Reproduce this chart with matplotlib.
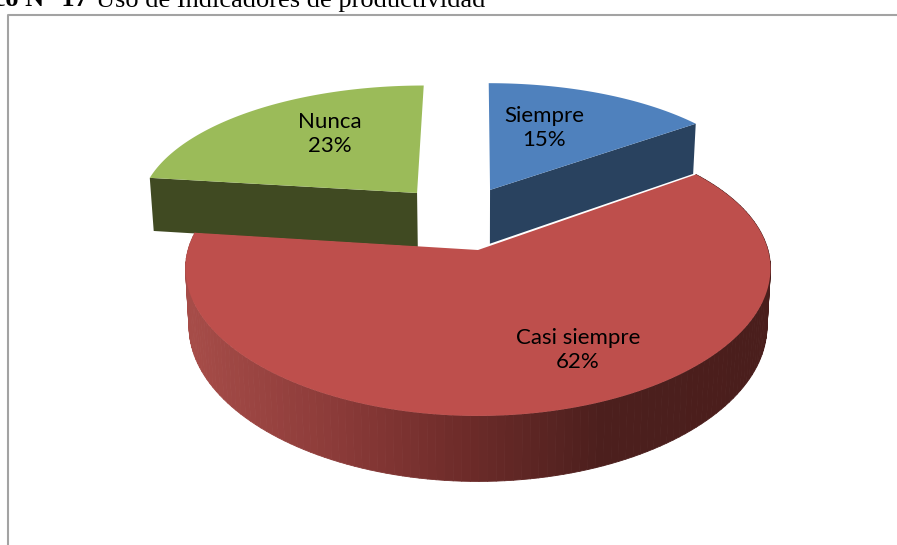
import numpy as np
import matplotlib
matplotlib.use("Agg")
import matplotlib.pyplot as plt
from matplotlib.collections import PolyCollection
from matplotlib.colors import LinearSegmentedColormap

labels = ["Siempre", "Casi siempre", "Nunca"]
values = [15, 62, 23]
top_colors = ["#4F81BD", "#BE4F4C", "#9BBB59"]
side_colors = ["#29425F", "#BE4F4C", "#404A22"]

# pie position in pixels, perspective terms fitted by eye on the reference
cx, cy = 478, 250
rx, ry = 290, 140.2
px, py = 0.13, 0.155
depth = 57
offsets = [(0.044, 0.459), (0, 0), (-0.222, 0.434)]
label_pos = [(544, 128), (578, 350), (330, 134)]


def project(x, y, low=False):
    sx = cx + rx * x / (1 + px * y)
    sy = cy - ry * y / (1 + py * y)
    if low:
        sx = cx + (sx - cx) * 0.988
        sy = sy + depth / (1 + px * y)
    return sx, sy


def rim(a0, a1, off, n=150):
    t = np.radians(np.linspace(a0, a1, n))
    return np.sin(t) + off[0], np.cos(t) + off[1]


fig = plt.figure(figsize=(8.97, 5.45), dpi=100)
ax = fig.add_axes([0, 0, 1, 1])
ax.set_xlim(0, 897)
ax.set_ylim(545, 0)
ax.axis("off")

ax.plot([7.5, 7.5, 897], [545, 14.5, 14.5], color="#A3A3A3", lw=1.5, zorder=1)

ax.text(88, 6.5, "Gráfico N° 17", family="Liberation Serif", weight="bold", fontsize=19,
        ha="right", va="baseline", clip_on=False)
ax.text(96, 6.5, "Uso de Indicadores de productividad", family="Liberation Serif", fontsize=19,
        ha="left", va="baseline", clip_on=False)

fade = LinearSegmentedColormap.from_list(
    "fade", [(0, "#A64C48"), (0.26, "#8A3A38"), (0.48, "#6C2B29"), (0.71, "#4C1F1D"), (1, "#4A1E1C")])

angles = np.cumsum([0] + values) * 3.6
draw_order = [2, 0, 1]
for z, i in enumerate(draw_order):
    a0, a1 = angles[i], angles[i + 1]
    off = offsets[i]
    xs, ys = rim(a0, a1, off)
    tx, ty = project(xs, ys)
    ax0, ay0 = project(off[0], off[1])

    if i == 0:
        # dark cut face running from the centre to the right end of the slice
        lx, ly = project(xs[-1], ys[-1], low=True)
        bx, by = project(off[0], off[1], low=True)
        ax.fill([ax0, tx[-1], lx, bx], [ay0, ty[-1], ly, by], color=side_colors[i], lw=0, zorder=3 + z)
    if i == 2:
        lx, ly = project(xs[0], ys[0], low=True)
        bx, by = project(off[0], off[1], low=True)
        ax.fill([ax0, tx[0], lx, bx], [ay0, ty[0], ly, by], color=side_colors[i], lw=0, zorder=3 + z)
    if i == 1:
        lx, ly = project(xs, ys, low=True)
        quads = [[(tx[k], ty[k]), (tx[k + 1], ty[k + 1]), (lx[k + 1], ly[k + 1]), (lx[k], ly[k])]
                 for k in range(len(tx) - 1)]
        shade = [fade(np.clip(((tx[k] + tx[k + 1]) / 2 - 190) / 580, 0, 1)) for k in range(len(tx) - 1)]
        ax.add_collection(PolyCollection(quads, facecolors=shade, edgecolors=shade, linewidths=0.6, zorder=3 + z))

    ax.fill(np.r_[ax0, tx], np.r_[ay0, ty], color=top_colors[i], lw=0, zorder=3 + z)

for name, val, (lx, ly) in zip(labels, values, label_pos):
    ax.text(lx, ly, f"{name}\n{val}%", family="Lato", fontsize=16, color="black",
            ha="center", va="center", linespacing=1.2, zorder=10)

fig.savefig("out.png", dpi=100)
